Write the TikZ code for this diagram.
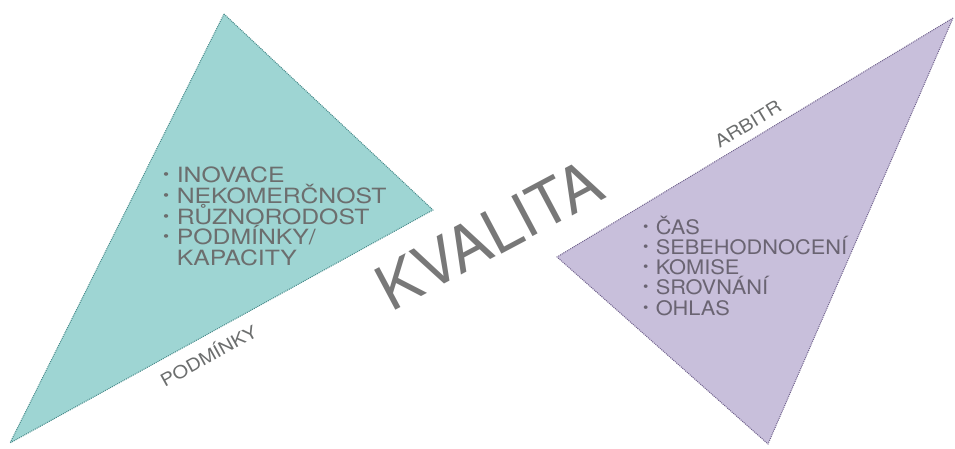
\documentclass[tikz,border=0pt]{standalone}
\usepackage{fontspec}
\setmainfont{TeX Gyre Heros}
\usepackage{xcolor}
\usepackage{graphicx}
\usetikzlibrary{positioning}

\definecolor{tealfill}{RGB}{158,213,211}
\definecolor{tealedge}{RGB}{72,138,138}
\definecolor{lilacfill}{RGB}{200,191,219}
\definecolor{lilacedge}{RGB}{112,98,140}
\definecolor{txtgray}{RGB}{108,110,110}
\definecolor{txtlilac}{RGB}{106,100,114}
\definecolor{biggray}{RGB}{120,120,120}
\newcommand{\bul}{\makebox[11.5pt][l]{\raisebox{2.8pt}{\scalebox{0.7}{\textbullet}}}}
\newcommand{\wide}[1]{\scalebox{1.15}[1]{#1}}

\begin{document}
\begin{tikzpicture}[
  x=1pt, y=1pt,
  tri/.style={densely dotted, line width=1pt},
  itm/.style={anchor=base west, inner sep=0pt},
  lft/.style={itm, text=txtgray, xscale=1.18, font=\fontsize{21}{24}\selectfont},
  rgt/.style={itm, text=txtlilac, xscale=1.09, font=\fontsize{20}{23}\selectfont},
  side/.style={inner sep=0pt, text=txtgray, font=\fontsize{17.5}{20}\selectfont},
  big/.style={inner sep=0pt, text=biggray, font=\fontsize{62}{72}\selectfont}
]
  \useasboundingbox (0,0) rectangle (955,448);

  \coordinate (LT) at (224,434);
  \coordinate (LR) at (433,238);
  \coordinate (LB) at (10,5);
  \coordinate (RT) at (953,430);
  \coordinate (RL) at (557,191);
  \coordinate (RB) at (768,4);

  \filldraw[tri, fill=tealfill, draw=tealedge] (LT) -- (LR) -- (LB) -- cycle;
  \filldraw[tri, fill=lilacfill, draw=lilacedge] (RT) -- (RL) -- (RB) -- cycle;

  \node[lft] (inov) at (163,266) {\bul INOVACE};
  \node[lft] (nekom) at (163,245) {\bul NEKOMERČNOST};
  \node[lft] (ruzn) at (163,224) {\bul RŮZNORODOST};
  \node[lft] (podm) at (163,204) {\bul PODMÍNKY/};
  \node[lft] (kapac) at (163,183) {\hspace*{11.5pt}KAPACITY};

  \node[rgt] (cas) at (643,214) {\bul ČAS};
  \node[rgt] (sebe) at (643,194) {\bul SEBEHODNOCENÍ};
  \node[rgt] (komise) at (643,174) {\bul KOMISE};
  \node[rgt] (srovn) at (643,154) {\bul SROVNÁNÍ};
  \node[rgt] (ohlas) at (643,133) {\bul OHLAS};

  \node[side, rotate=29] (podminky) at (208,93) {\wide{PODMÍNKY}};
  \node[side, rotate=31] (arbitr) at (748,324) {\wide{ARBITR}};
  \node[big, rotate=28] (kvalita) at (489,213) {KVALITA};
\end{tikzpicture}
\end{document}
